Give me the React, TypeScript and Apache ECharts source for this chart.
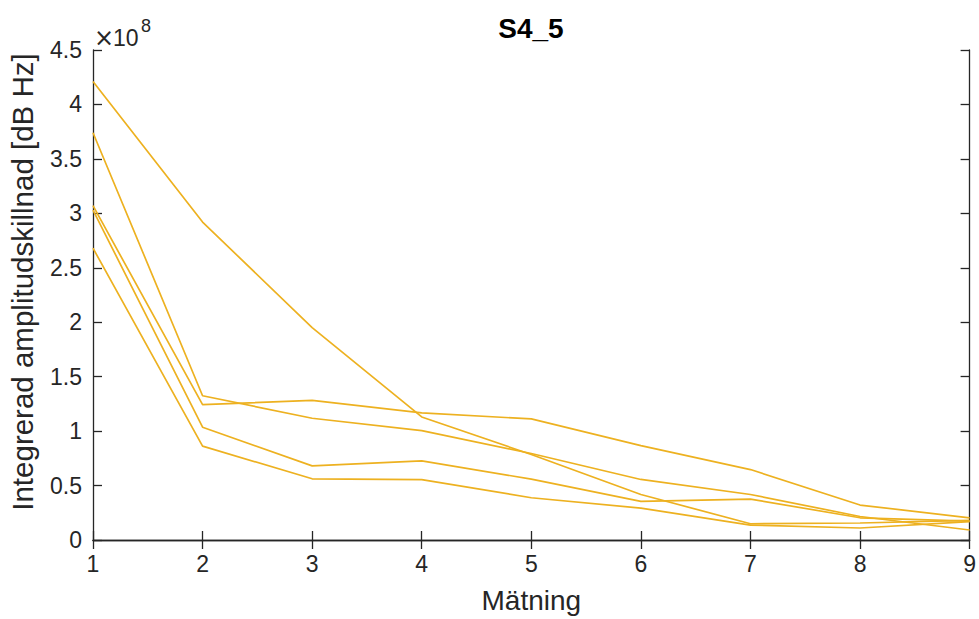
import React, { useEffect, useRef } from "react";
import * as echarts from "echarts";

const measurements = [1, 2, 3, 4, 5, 6, 7, 8, 9];
const line1 = [4.21e8, 2.92e8, 1.95e8, 1.13e8, 0.785e8, 0.418e8, 0.149e8, 0.156e8, 0.18e8];
const line2 = [3.74e8, 1.325e8, 1.118e8, 1.005e8, 0.794e8, 0.556e8, 0.418e8, 0.216e8, 0.092e8];
const line3 = [3.07e8, 1.243e8, 1.283e8, 1.167e8, 1.112e8, 0.867e8, 0.647e8, 0.321e8, 0.204e8];
const line4 = [3.03e8, 1.036e8, 0.681e8, 0.727e8, 0.559e8, 0.354e8, 0.376e8, 0.204e8, 0.174e8];
const line5 = [2.68e8, 0.862e8, 0.562e8, 0.555e8, 0.388e8, 0.293e8, 0.137e8, 0.11e8, 0.168e8];
const allLines = [line1, line2, line3, line4, line5];

const FONT = "Liberation Sans, Arial, Helvetica, sans-serif";
const AXIS_COLOR = "#262626";
const LINE_COLOR = "#EDB120";

export default function App() {
  const ref = useRef<HTMLDivElement>(null);
  useEffect(() => {
    if (!ref.current) return;
    const chart = echarts.init(ref.current, undefined, { renderer: "svg" });
    const axisLine = { show: true, lineStyle: { color: AXIS_COLOR, width: 1.3 } };
    const axisTick = { show: true, inside: true, length: 9, lineStyle: { color: AXIS_COLOR, width: 1.3 } };
    chart.setOption({
      animation: false,
      backgroundColor: "#ffffff",
      title: {
        text: "S4_5",
        left: 526,
        textAlign: "center",
        top: 9,
        textStyle: { fontFamily: FONT, fontSize: 28, fontWeight: "bold", color: "#000" },
      },
      grid: { left: 93, right: 8.5, top: 50, bottom: 77, containLabel: false },
      graphic: [
        {
          type: "text",
          x: 22,
          y: 282,
          rotation: Math.PI / 2,
          style: {
            text: "Integrerad amplitudskillnad [dB Hz]",
            fontFamily: FONT,
            fontSize: 29.5,
            fill: AXIS_COLOR,
            verticalAlign: "middle",
            align: "center",
          },
        },
        {
          type: "text",
          x: 94,
          y: 38,
          style: {
            text: "×",
            fontFamily: "DejaVu Sans, sans-serif",
            fontSize: 24,
            fill: AXIS_COLOR,
            verticalAlign: "middle",
            align: "left",
          },
        },
        {
          type: "text",
          x: 113,
          y: 38,
          style: {
            text: "10",
            fontFamily: FONT,
            fontSize: 23,
            fill: AXIS_COLOR,
            verticalAlign: "middle",
            align: "left",
          },
        },
        {
          type: "text",
          x: 141,
          y: 26,
          style: {
            text: "8",
            fontFamily: FONT,
            fontSize: 18,
            fill: AXIS_COLOR,
            verticalAlign: "middle",
            align: "left",
          },
        },
      ],
      xAxis: [
        {
          type: "value",
          min: 1,
          max: 9,
          interval: 1,
          position: "bottom",
          name: "Mätning",
          nameLocation: "middle",
          nameGap: 46,
          nameTextStyle: { fontFamily: FONT, fontSize: 28, color: AXIS_COLOR },
          axisLine,
          axisTick,
          splitLine: { show: false },
          axisLabel: { fontFamily: FONT, fontSize: 23, color: AXIS_COLOR, margin: 12 },
        },
        {
          type: "value",
          min: 1,
          max: 9,
          interval: 1,
          position: "top",
          axisLine,
          axisTick,
          splitLine: { show: false },
          axisLabel: { show: false },
        },
      ],
      yAxis: [
        {
          type: "value",
          min: 0,
          max: 4.5e8,
          interval: 0.5e8,
          position: "left",
          axisLine,
          axisTick,
          splitLine: { show: false },
          axisLabel: {
            fontFamily: FONT,
            fontSize: 23,
            color: AXIS_COLOR,
            margin: 11,
            formatter: (v: number) => String(Math.round((v / 1e8) * 10) / 10),
          },
        },
        {
          type: "value",
          min: 0,
          max: 4.5e8,
          interval: 0.5e8,
          position: "right",
          axisLine,
          axisTick,
          splitLine: { show: false },
          axisLabel: { show: false },
        },
      ],
      series: allLines.map((vals, i) => ({
        name: "line" + (i + 1),
        type: "line",
        xAxisIndex: 0,
        yAxisIndex: 0,
        data: measurements.map((m, j) => [m, vals[j]]),
        showSymbol: false,
        symbol: "none",
        lineStyle: { color: LINE_COLOR, width: 1.7 },
        z: 1,
      })),
    });
    return () => chart.dispose();
  }, []);
  return (
    <div
      ref={ref}
      style={{ position: "absolute", left: 0, top: 0, width: 979, height: 619 }}
    />
  );
}
